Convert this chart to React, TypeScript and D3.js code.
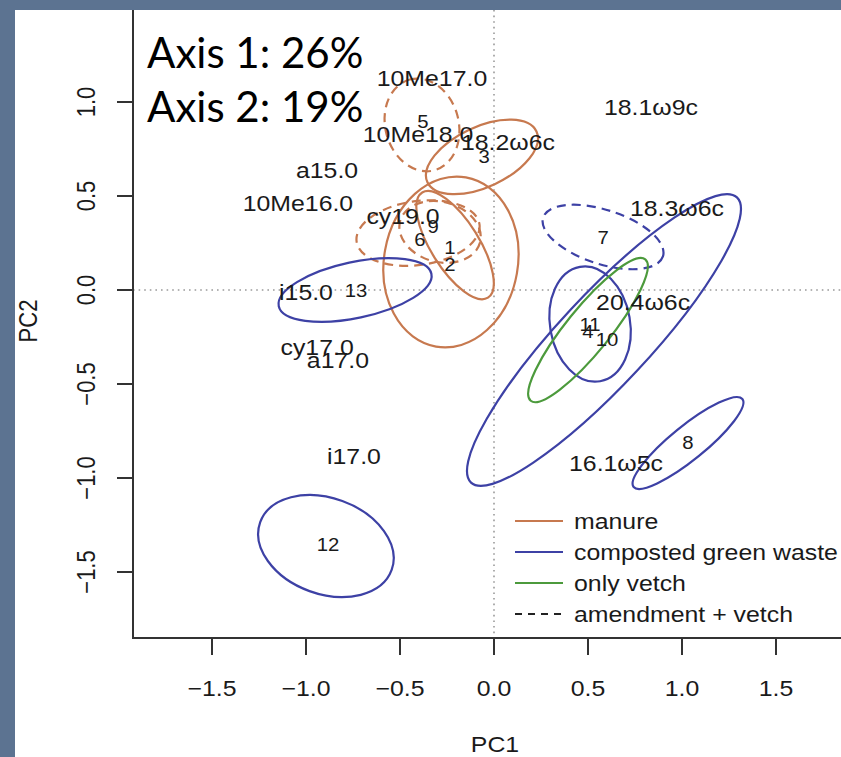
import * as d3 from "d3";

// axis ticks
const xTicks = [-1.5, -1.0, -0.5, 0.0, 0.5, 1.0, 1.5];
const yTicks = [-1.5, -1.0, -0.5, 0.0, 0.5, 1.0];

// confidence ellipses (PC units): centre, semi axes, rotation in degrees
const ellGroup = ["manure", "manure", "manure", "manure", "manure", "manure",
  "compost", "compost", "compost", "compost", "compost", "compost", "vetch"];
const ellDashed = [true, false, false, false, true, true, false, false, false, false, true, false, false];
const ellCx = [-0.383, -0.064, -0.229, -0.207, -0.404, -0.287, -0.739, -0.894, 0.585, 0.511, 0.58, 1.032, 0.5];
const ellCy = [0.878, 0.708, 0.149, 0.239, 0.303, 0.309, 0.0, -1.362, -0.266, -0.181, 0.282, -0.814, -0.213];
const ellA = [0.25, 0.32, 0.457, 0.33, 0.33, 0.22, 0.415, 0.372, 1.037, 0.309, 0.335, 0.372, 0.484];
const ellB = [0.195, 0.16, 0.356, 0.128, 0.17, 0.16, 0.149, 0.255, 0.24, 0.213, 0.144, 0.09, 0.117];
const ellAngle = [105, 25, 80, -58, 8, -15, 12, -20, 47, 100, -18, 39, 51];

// fatty acid labels
const varNames = ["10Me17.0", "10Me18.0", "18.2ω6c", "18.1ω9c", "18.3ω6c", "a15.0", "10Me16.0",
  "cy19.0", "i15.0", "cy17.0", "a17.0", "i17.0", "20.4ω6c", "16.1ω5c"];
const varX = [-0.33, -0.404, 0.074, 0.835, 0.973, -0.888, -1.043, -0.484, -1.0, -0.941, -0.83, -0.745, 0.793, 0.649];
const varY = [1.128, 0.83, 0.787, 0.973, 0.436, 0.638, 0.463, 0.394, -0.011, -0.303, -0.372, -0.883, -0.064, -0.92];

// treatment centroid labels
const trtNames = ["1", "2", "3", "4", "5", "6", "7", "8", "9", "10", "11", "12", "13"];
const trtX = [-0.234, -0.234, -0.053, 0.5, -0.378, -0.394, 0.58, 1.032, -0.324, 0.601, 0.511, -0.883, -0.734];
const trtY = [0.223, 0.133, 0.707, -0.223, 0.894, 0.266, 0.277, -0.814, 0.335, -0.266, -0.186, -1.356, -0.005];

const legendLabels = ["manure", "composted green waste", "only vetch", "amendment + vetch"];
const legendKeys = ["manure", "compost", "vetch", "dashed"];

const colors: Record<string, string> = {
  manure: "#c7794f",
  compost: "#3d41a5",
  vetch: "#4c9a3c",
  dashed: "#222222",
};

const W = 841;
const H = 757;
const plotL = 133;
const plotR = 857;
const plotT = -6; // top edge of the R plot box is cropped off in the slide
const plotB = 638;
const font = "'Liberation Sans', Arial, Helvetica, sans-serif";
const stretch = 1.13;

export default function App() {
  const x = d3.scaleLinear().domain([-1.5, 1.5]).range([212, 776]);
  const y = d3.scaleLinear().domain([-1.5, 1.0]).range([572, 102]);
  const k = x(1) - x(0);
  const fmt = (t: number) => (t < 0 ? "\u2212" + Math.abs(t).toFixed(1) : t.toFixed(1));

  return (
    <div style={{ position: "fixed", left: 0, top: 0 }}>
      <svg width={W} height={H} style={{ display: "block" }}>
        <rect width={W} height={H} fill="#5c7391" />
        <rect x={15} y={10} width={W - 15} height={H - 10} fill="#ffffff" />

        <g clipPath="url(#page)">
          <defs>
            <clipPath id="page">
              <rect x={15} y={10} width={W - 15} height={H - 10} />
            </clipPath>
          </defs>

          {/* zero lines */}
          <line x1={x(0)} x2={x(0)} y1={10} y2={plotB} stroke="#9a9a9a" strokeWidth={1.6} strokeDasharray="1.6 4" />
          <line x1={plotL} x2={plotR} y1={y(0)} y2={y(0)} stroke="#9a9a9a" strokeWidth={1.6} strokeDasharray="1.6 4" />

          {/* ellipses */}
          {ellCx.map((cx, i) => (
            <ellipse
              key={"e" + i}
              cx={x(cx)}
              cy={y(ellCy[i])}
              rx={ellA[i] * k}
              ry={ellB[i] * k}
              transform={`rotate(${-ellAngle[i]},${x(cx)},${y(ellCy[i])})`}
              fill="none"
              stroke={colors[ellGroup[i]]}
              strokeWidth={2.2}
              strokeDasharray={ellDashed[i] ? "9 6" : undefined}
            />
          ))}

          {/* variable labels */}
          {varNames.map((t, i) => (
            <text
              key={"v" + i}
              transform={`translate(${x(varX[i])},${y(varY[i])}) scale(${stretch},1)`}
              textAnchor="middle"
              dy="0.35em"
              fontFamily={font}
              fontSize={22}
              fill="#1a1a1a"
            >
              {t}
            </text>
          ))}

          {/* treatment labels */}
          {trtNames.map((t, i) => (
            <text
              key={"t" + i}
              transform={`translate(${x(trtX[i])},${y(trtY[i])}) scale(${stretch},1)`}
              textAnchor="middle"
              dy="0.35em"
              fontFamily={font}
              fontSize={18}
              fill="#1a1a1a"
            >
              {t}
            </text>
          ))}

          {/* legend */}
          {legendLabels.map((t, i) => {
            const ly = 521 + i * 31;
            const key = legendKeys[i];
            return (
              <g key={"l" + i}>
                <line
                  x1={515}
                  x2={563}
                  y1={ly}
                  y2={ly}
                  stroke={colors[key]}
                  strokeWidth={2.2}
                  strokeDasharray={key === "dashed" ? "7 6" : undefined}
                />
                <text
                  transform={`translate(574,${ly}) scale(${stretch},1)`}
                  dy="0.35em"
                  fontFamily={font}
                  fontSize={22}
                  fill="#1a1a1a"
                >
                  {t}
                </text>
              </g>
            );
          })}

          {/* box */}
          <rect x={plotL} y={plotT} width={plotR - plotL} height={plotB - plotT} fill="none" stroke="#333" strokeWidth={2} />
        </g>

        {/* x axis */}
        {xTicks.map((t) => (
          <g key={"xt" + t}>
            <line x1={x(t)} x2={x(t)} y1={plotB} y2={plotB + 17} stroke="#333" strokeWidth={2} />
            <text
              transform={`translate(${x(t)},688) scale(${stretch},1)`}
              textAnchor="middle"
              dy="0.35em"
              fontFamily={font}
              fontSize={22}
              fill="#1a1a1a"
            >
              {fmt(t)}
            </text>
          </g>
        ))}
        <text
          transform={`translate(${(plotL + plotR) / 2},744) scale(${stretch},1)`}
          textAnchor="middle"
          dy="0.35em"
          fontFamily={font}
          fontSize={22}
          fill="#1a1a1a"
        >
          PC1
        </text>

        {/* y axis */}
        {yTicks.map((t) => (
          <g key={"yt" + t}>
            <line x1={plotL - 16} x2={plotL} y1={y(t)} y2={y(t)} stroke="#333" strokeWidth={2} />
            <text
              transform={`translate(86,${y(t)}) rotate(-90) scale(1,${stretch})`}
              textAnchor="middle"
              dy="0.35em"
              fontFamily={font}
              fontSize={22}
              fill="#1a1a1a"
            >
              {fmt(t)}
            </text>
          </g>
        ))}
        <text
          transform={`translate(28,321) rotate(-90) scale(1,${stretch})`}
          textAnchor="middle"
          dy="0.35em"
          fontFamily={font}
          fontSize={22}
          fill="#1a1a1a"
        >
          PC2
        </text>

        {/* slide annotation */}
        <text x={147} y={68} fontFamily="Lato, 'Open Sans', sans-serif" fontSize={42} fill="#000">
          Axis 1: 26%
        </text>
        <text x={147} y={122} fontFamily="Lato, 'Open Sans', sans-serif" fontSize={42} fill="#000">
          Axis 2: 19%
        </text>
      </svg>
    </div>
  );
}
